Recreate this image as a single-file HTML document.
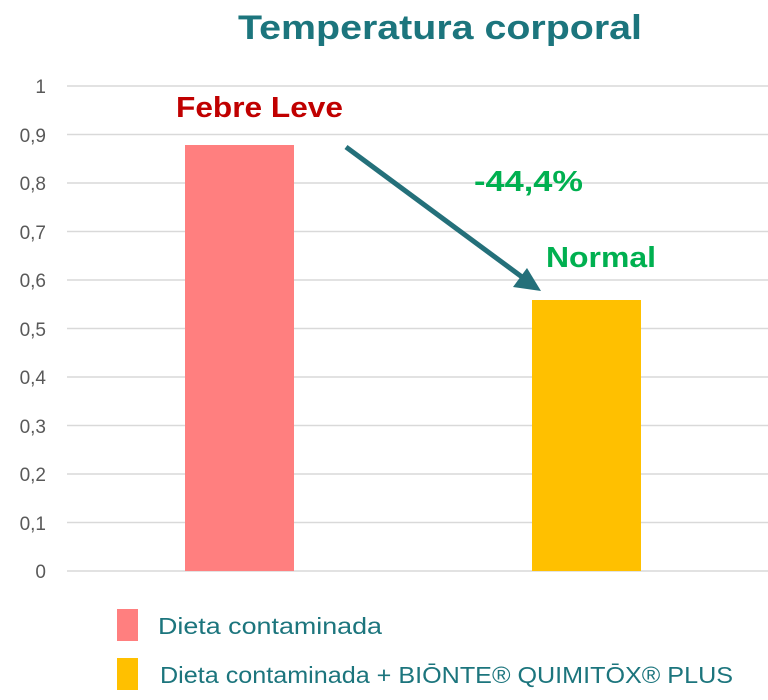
<!DOCTYPE html><html><head><meta charset="utf-8"><style>body{margin:0;background:#fff;}svg{display:block}</style></head><body>
<svg width="768" height="700" xmlns="http://www.w3.org/2000/svg" font-family="Liberation Sans, sans-serif">
<text x="238" y="39" textLength="404" lengthAdjust="spacingAndGlyphs" font-size="34" font-weight="bold" fill="#1c757d">Temperatura corporal</text>
<g stroke="#d9d9d9" stroke-width="1.5">
<line x1="67" x2="768" y1="86" y2="86"/><line x1="67" x2="768" y1="134.5" y2="134.5"/><line x1="67" x2="768" y1="183" y2="183"/><line x1="67" x2="768" y1="231.5" y2="231.5"/><line x1="67" x2="768" y1="280" y2="280"/><line x1="67" x2="768" y1="328.5" y2="328.5"/><line x1="67" x2="768" y1="377" y2="377"/><line x1="67" x2="768" y1="425.5" y2="425.5"/><line x1="67" x2="768" y1="474" y2="474"/><line x1="67" x2="768" y1="522.5" y2="522.5"/><line x1="67" x2="768" y1="571" y2="571"/>
</g>
<g font-size="19" fill="#595959" text-anchor="end">
<text x="46" y="93">1</text><text x="46" y="142">0,9</text><text x="46" y="190">0,8</text><text x="46" y="239">0,7</text><text x="46" y="287">0,6</text><text x="46" y="336">0,5</text><text x="46" y="384">0,4</text><text x="46" y="433">0,3</text><text x="46" y="481">0,2</text><text x="46" y="530">0,1</text><text x="46" y="578">0</text>
</g>
<rect x="185" y="145" width="109" height="426" fill="#ff7f7f"/>
<rect x="532" y="300" width="109" height="271" fill="#ffc000"/>
<text x="176" y="117" textLength="167" lengthAdjust="spacingAndGlyphs" font-size="29" font-weight="bold" fill="#c00000">Febre Leve</text>
<text x="474" y="191" textLength="109" lengthAdjust="spacingAndGlyphs" font-size="29" font-weight="bold" fill="#00b050">-44,4%</text>
<text x="546" y="267" textLength="110" lengthAdjust="spacingAndGlyphs" font-size="29" font-weight="bold" fill="#00b050">Normal</text>
<line x1="346" y1="147" x2="522" y2="277" stroke="#24707a" stroke-width="5"/>
<polygon points="541,291 513,287 527,268" fill="#24707a"/>
<rect x="117" y="609" width="21" height="32" fill="#ff7f7f"/>
<rect x="117" y="658" width="21" height="32" fill="#ffc000"/>
<text x="158" y="634" textLength="224" lengthAdjust="spacingAndGlyphs" font-size="23" fill="#1c757d">Dieta contaminada</text>
<text x="160" y="683" textLength="573" lengthAdjust="spacingAndGlyphs" font-size="23" fill="#1c757d">Dieta contaminada + BIŌNTE® QUIMITŌX® PLUS</text>
</svg></body></html>
